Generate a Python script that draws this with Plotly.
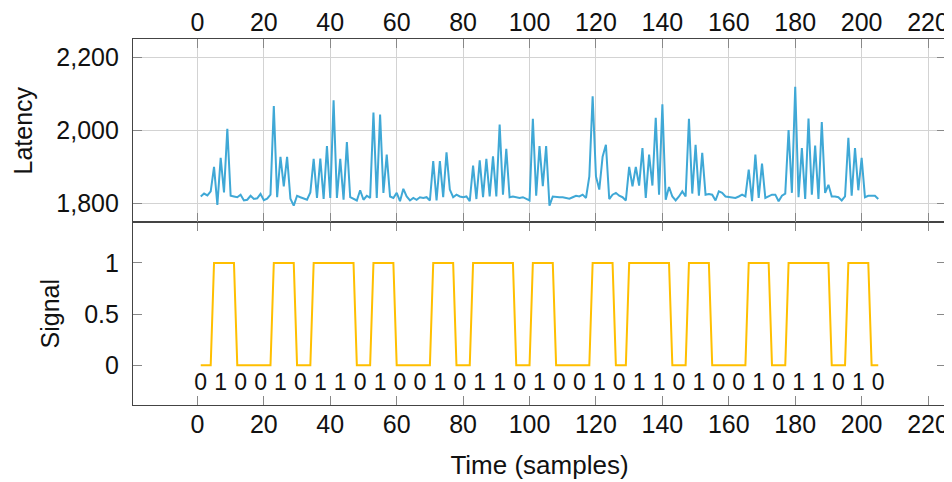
import plotly.graph_objects as go

# ---------------- data ----------------
latency = [
    1818, 1826, 1821, 1832, 1899, 1795, 1924, 1829, 2004, 1820,
    1818, 1816, 1823, 1807, 1809, 1820, 1811, 1813, 1825, 1808,
    1812, 1823, 2066, 1816, 1927, 1846, 1927, 1812, 1793, 1820,
    1816, 1813, 1809, 1829, 1921, 1814, 1922, 1811, 1956, 1814,
    2082, 1814, 1921, 1809, 1967, 1816, 1811, 1807, 1835, 1809,
    1820, 1814, 2048, 1814, 2043, 1828, 1933, 1818, 1814, 1828,
    1805, 1839, 1818, 1807, 1814, 1809, 1816, 1814, 1816, 1807,
    1915, 1807, 1915, 1816, 1939, 1837, 1816, 1823, 1818, 1816,
    1818, 1805, 1903, 1811, 1917, 1816, 1921, 1818, 1928, 1818,
    2015, 1823, 1949, 1816, 1818, 1816, 1814, 1816, 1811, 1807,
    2031, 1820, 1956, 1846, 1956, 1793, 1818, 1816, 1816, 1816,
    1814, 1812, 1816, 1820, 1818, 1823, 1814, 1873, 2093, 1873,
    1837, 1927, 1960, 1811, 1823, 1828, 1820, 1816, 1807, 1899,
    1846, 1899, 1848, 1951, 1814, 1933, 1848, 2034, 1823, 2071,
    1809, 1844, 1818, 1807, 1818, 1832, 1818, 2031, 1826, 1960,
    1820, 1938, 1823, 1825, 1823, 1807, 1832, 1828, 1818, 1816,
    1816, 1814, 1818, 1823, 1818, 1892, 1805, 1933, 1814, 1908,
    1814, 1818, 1823, 1823, 1805, 1820, 1826, 2000, 1828, 2119,
    1816, 1951, 1811, 2032, 1823, 1958, 1811, 2022, 1828, 1850,
    1818, 1818, 1816, 1807, 1818, 1979, 1820, 1951, 1835, 1924,
    1816, 1820, 1820, 1820, 1811,
]
samples = list(range(1, len(latency) + 1))

# signal as run lengths (level, number of samples)
signal_levels = [0, 1, 0, 1, 0, 1, 0, 1, 0, 1, 0, 1, 0, 1,
                 0, 1, 0, 1, 0, 1, 0, 1, 0, 1, 0, 1, 0]
signal_runs = [4, 7, 11, 7, 5, 13, 5, 7, 11, 7, 5, 13, 5, 7,
               11, 7, 4, 13, 5, 7, 11, 7, 5, 13, 5, 7, 3]
signal = []
for lvl, n in zip(signal_levels, signal_runs):
    signal += [lvl] * n

bits = ["0", "1", "0", "0", "1", "0", "1", "1", "0", "1", "0", "0",
        "1", "0", "1", "1", "0", "1", "0", "0", "1", "0", "1", "1",
        "0", "1", "0", "0", "1", "0", "1", "1", "0", "1", "0"]
bit_samples = [1 + 6 * i for i in range(len(bits))]

x_ticks = [0, 20, 40, 60, 80, 100, 120, 140, 160, 180, 200, 220]
lat_ticks = [1800, 2000, 2200]
sig_ticks = [0, 0.5, 1]

# ---------------- figure ----------------
FONT = "Liberation Sans"
BLUE = "#3FA8D6"
AMBER = "#FFBF00"

fig = go.Figure()
fig.add_trace(go.Scatter(x=samples, y=latency, mode="lines",
                         line=dict(color=BLUE, width=2),
                         xaxis="x2", yaxis="y2", showlegend=False,
                         hoverinfo="skip"))
fig.add_trace(go.Scatter(x=samples, y=signal, mode="lines",
                         line=dict(color=AMBER, width=2),
                         xaxis="x", yaxis="y", showlegend=False,
                         hoverinfo="skip"))
fig.add_trace(go.Scatter(x=bit_samples, y=[-0.19] * len(bits), mode="text",
                         text=bits, textposition="middle center",
                         textfont=dict(family=FONT, size=23, color="#111"),
                         xaxis="x", yaxis="y", showlegend=False,
                         hoverinfo="skip"))

xr = [-19.4, 225.4]
common_axis = dict(showline=True, linecolor="#444", linewidth=1.2,
                   mirror="ticks", ticks="inside", ticklen=9,
                   tickcolor="#888", tickwidth=1, zeroline=False,
                   automargin=False,
                   tickfont=dict(family=FONT, size=25, color="#111"))

# the page body adds an 8px offset, so the figure is laid out 8px smaller
fig.update_layout(
    width=944, height=474,
    margin=dict(l=125, r=6, t=31, b=77, autoexpand=False),
    paper_bgcolor="white", plot_bgcolor="white",
    font=dict(family=FONT, size=25, color="#111"),
    xaxis=dict(domain=[0, 1], anchor="y", range=xr, tickvals=x_ticks,
               showgrid=False, ticklabelstandoff=-3,
               title=dict(text="Time (samples)",
                          font=dict(family=FONT, size=26, color="#111"),
                          standoff=18),
               **common_axis),
    yaxis=dict(domain=[0, 0.5], anchor="x", range=[-0.39, 1.4],
               tickvals=sig_ticks, ticktext=["0", "0.5", "1"],
               showgrid=False, ticklabelstandoff=8, **common_axis),
    xaxis2=dict(domain=[0, 1], anchor="y2", side="top", range=xr,
                tickvals=x_ticks, showgrid=True, gridcolor="#d3d3d3",
                gridwidth=1, ticklabelstandoff=-3, **common_axis),
    yaxis2=dict(domain=[0.5, 1], anchor="x2", range=[1748, 2250],
                tickvals=lat_ticks, tickformat=",d", showgrid=True,
                gridcolor="#d3d3d3", gridwidth=1, ticklabelstandoff=8,
                **common_axis),
    annotations=[
        dict(text="Latency", xref="paper", yref="y2 domain", x=0, y=0.5,
             xanchor="center", yanchor="middle", xshift=-111, textangle=-90,
             showarrow=False, font=dict(family=FONT, size=25, color="#111")),
        dict(text="Signal", xref="paper", yref="y domain", x=0, y=0.5,
             xanchor="center", yanchor="middle", xshift=-84, textangle=-90,
             showarrow=False, font=dict(family=FONT, size=25, color="#111")),
    ],
)

fig.write_html("out.html")
